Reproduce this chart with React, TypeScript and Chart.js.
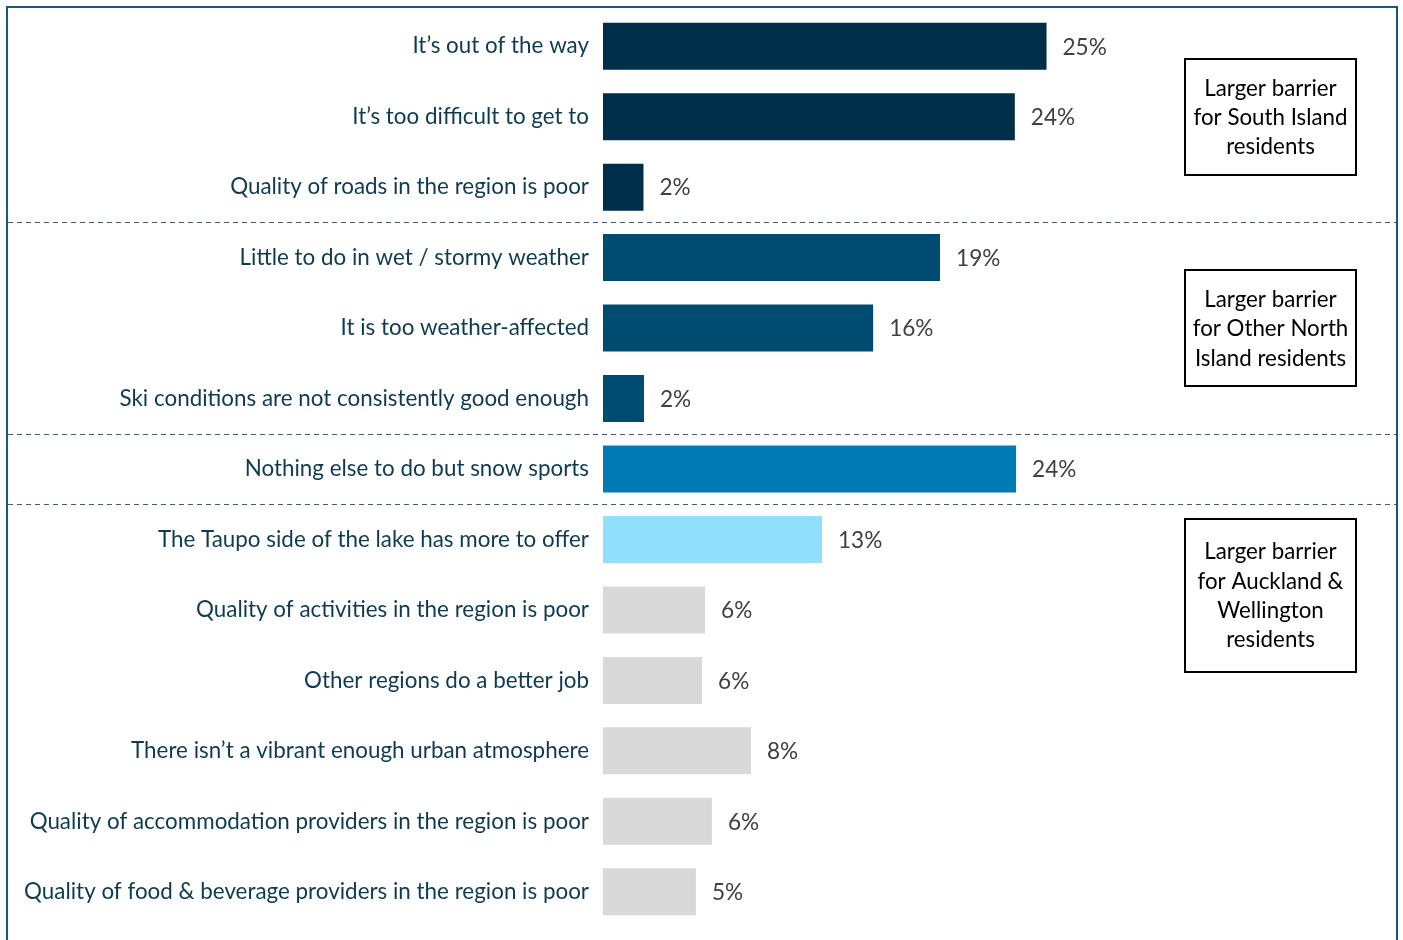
import React, { useEffect, useRef } from "react";
import { Chart, registerables } from "chart.js";

Chart.register(...registerables);

const categories = [
  "It\u2019s out of the way",
  "It\u2019s too difficult to get to",
  "Quality of roads in the region is poor",
  "Little to do in wet / stormy weather",
  "It is too weather-affected",
  "Ski conditions are not consistently good enough",
  "Nothing else to do but snow sports",
  "The Taupo side of the lake has more to offer",
  "Quality of activities in the region is poor",
  "Other regions do a better job",
  "There isn\u2019t a vibrant enough urban atmosphere",
  "Quality of accommodation providers in the region is poor",
  "Quality of food & beverage providers in the region is poor",
];

const values = [25.2, 23.4, 2.3, 19.15, 15.35, 2.33, 23.47, 12.44, 5.8, 5.63, 8.41, 6.19, 5.28];

const valueLabels = ["25%", "24%", "2%", "19%", "16%", "2%", "24%", "13%", "6%", "6%", "8%", "6%", "5%"];

const barColors = [
  "#003049", "#003049", "#003049",
  "#004c70", "#004c70", "#004c70",
  "#007bb3",
  "#91dffd",
  "#d9d9d9", "#d9d9d9", "#d9d9d9", "#d9d9d9", "#d9d9d9",
];

// separators drawn after these category indices
const separatorsAfter = [2, 5, 6];

const boxTexts = [
  ["Larger barrier", "for South Island", "residents"],
  ["Larger barrier", "for Other North", "Island residents"],
  ["Larger barrier", "for Auckland &", "Wellington", "residents"],
];
// category position (fractional index) at which each box is centred
const boxAnchors = [1, 4, 7.79];

const FONT = "Lato, 'Open Sans', sans-serif";

const overlayPlugin = {
  id: "overlay",
  afterDraw(chart: any) {
    const { ctx } = chart;
    const ys = chart.scales.y;
    ctx.save();

    // frame
    ctx.strokeStyle = "#17587c";
    ctx.lineWidth = 2;
    ctx.beginPath();
    ctx.moveTo(7, 960);
    ctx.lineTo(7, 7);
    ctx.lineTo(1397, 7);
    ctx.lineTo(1397, 960);
    ctx.stroke();

    // dashed separators
    ctx.strokeStyle = "#4a5a68";
    ctx.lineWidth = 1;
    ctx.setLineDash([5, 4]);
    separatorsAfter.forEach((i) => {
      const y = Math.round((ys.getPixelForValue(i) + ys.getPixelForValue(i + 1)) / 2) + 0.5;
      ctx.beginPath();
      ctx.moveTo(8, y);
      ctx.lineTo(1396, y);
      ctx.stroke();
    });
    ctx.setLineDash([]);

    // value labels
    const meta = chart.getDatasetMeta(0);
    ctx.fillStyle = "#404040";
    ctx.font = `22.6px ${FONT}`;
    ctx.textAlign = "left";
    ctx.textBaseline = "middle";
    meta.data.forEach((bar: any, i: number) => {
      ctx.fillText(valueLabels[i], bar.x + 16, bar.y + 1);
    });

    // annotation boxes
    const boxLeft = 1185;
    const boxWidth = 171;
    const lineH = 29.3;
    boxTexts.forEach((lines, k) => {
      const cy = ys.getPixelForValue(boxAnchors[k]);
      const h = lines.length === 4 ? 153 : 116;
      const top = Math.round(cy - h / 2);
      ctx.strokeStyle = "#000000";
      ctx.lineWidth = 2;
      ctx.strokeRect(boxLeft, top, boxWidth, h);
      ctx.fillStyle = "#000000";
      ctx.font = `22.3px ${FONT}`;
      ctx.textAlign = "center";
      ctx.textBaseline = "middle";
      lines.forEach((t, j) => {
        const ty = cy - ((lines.length - 1) * lineH) / 2 + j * lineH + 1;
        ctx.fillText(t, boxLeft + boxWidth / 2, ty);
      });
    });

    ctx.restore();
  },
};

export default function App() {
  const ref = useRef<HTMLCanvasElement | null>(null);

  useEffect(() => {
    document.body.style.margin = "0";
    const canvas = ref.current;
    if (!canvas) return;
    const chart = new Chart(canvas, {
      type: "bar",
      data: {
        labels: categories,
        datasets: [
          {
            data: values,
            backgroundColor: barColors,
            borderWidth: 0,
            categoryPercentage: 1,
            barPercentage: 0.667,
          },
        ],
      },
      options: {
        indexAxis: "y",
        animation: false,
        responsive: false,
        maintainAspectRatio: false,
        layout: { padding: { top: 11, bottom: 13, left: 0, right: 8 } },
        plugins: {
          legend: { display: false },
          tooltip: { enabled: false },
        },
        scales: {
          x: {
            display: false,
            min: 0,
            max: 45,
          },
          y: {
            grid: { display: false, drawTicks: false },
            border: { display: false },
            ticks: {
              color: "#0e3b52",
              font: { family: FONT, size: 22.4 },
              padding: 14,
              autoSkip: false,
            },
            afterFit(scale: any) {
              scale.width = 603;
              scale.paddingTop = 0;
              scale.paddingBottom = 0;
            },
          },
        },
      },
      plugins: [overlayPlugin],
    });
    return () => chart.destroy();
  }, []);

  return (
    <div style={{ width: 1403, height: 940, position: "relative", background: "#ffffff" }}>
      <canvas ref={ref} width={1403} height={940} style={{ display: "block" }} />
    </div>
  );
}
